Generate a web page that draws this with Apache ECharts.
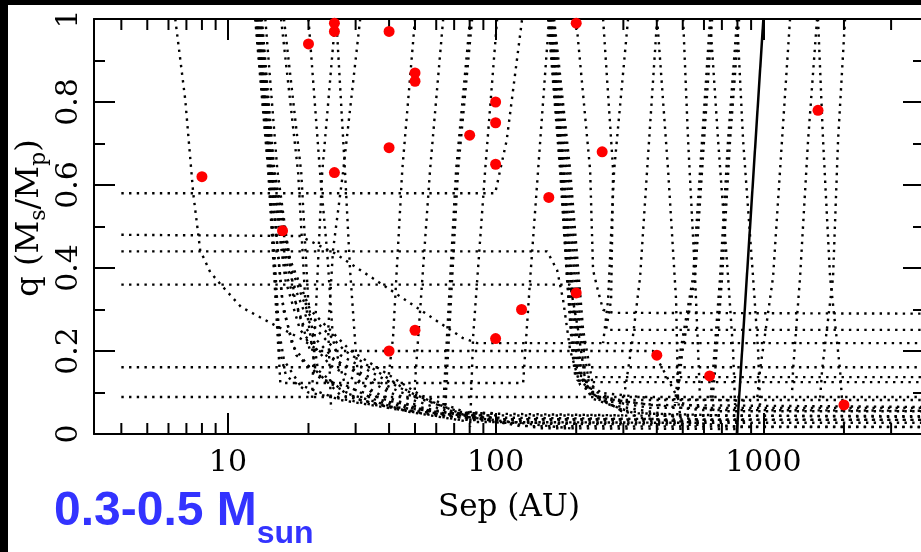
<!DOCTYPE html>
<html>
<head>
<meta charset="utf-8">
<script src="https://cdn.jsdelivr.net/npm/echarts@6/dist/echarts.min.js"></script>
<style>
  html, body { margin: 0; padding: 0; background: #fff; }
  #chart { width: 921px; height: 552px; }
</style>
</head>
<body>
<div id="chart"></div>
<script>
// Axis ranges (separation in AU on a log scale, mass ratio q linear)
const SEP_MIN = 3.162;
const SEP_MAX = 3981;
const Q_MIN = 0;
const Q_MAX = 1;

// Tick positions
const xMajorTicks = [10, 100, 1000];
const xMinorTicks = [4, 5, 6, 7, 8, 9, 20, 30, 40, 50, 60, 70, 80, 90,
                     200, 300, 400, 500, 600, 700, 800, 900, 2000, 3000];
const yTickStep = 0.2;

// Detected companions: separation (AU) and mass ratio q = Ms/Mp
const sepAU =     [8, 16, 20, 25, 25, 25, 40, 40, 40, 50, 50, 50, 80, 100, 100, 100, 100, 125, 158, 200, 200, 250, 400, 630, 1600, 2000];
const massRatio = [0.62, 0.49, 0.94, 0.99, 0.97, 0.63, 0.97, 0.69, 0.20, 0.87, 0.85, 0.25, 0.72, 0.80, 0.75, 0.65, 0.23, 0.30, 0.57, 0.99, 0.34, 0.68, 0.19, 0.14, 0.78, 0.07];

// Detection-limit curves, [sep (AU), q] pairs
const limT   = [[6.36,1],[6.93,0.806],[7.42,0.581],[7.88,0.443],[8.59,0.39],[9.44,0.359],[11.2,0.306],[14.9,0.263],[18.6,0.231],[24.1,0.183],[44,0.101],[73.7,0.053],[101,0.05]];
const lim058 = [[4,0.58],[99.6,0.58],[110,0.708],[125.6,1]];
const lim048 = [[4,0.48],[18.6,0.477],[25,0.436],[38,0.359],[62.1,0.267],[75.6,0.231],[85.3,0.219],[4000,0.219]];
const lim044 = [[4,0.44],[155.7,0.44],[169.7,0.395],[178.7,0.323],[189.8,0.202],[206.8,0.118],[245.6,0.087],[377.6,0.07],[4000,0.065]];
const lim036 = [[4,0.36],[189.8,0.36],[203.3,0.251],[215.9,0.13],[267.7,0.082],[580,0.058],[4000,0.056]];
const lim016 = [[4,0.161],[4000,0.161]];
const lim009 = [[4,0.089],[4000,0.089]];
const lim020 = [[13.8,1],[15.3,0.636],[17.8,0.323],[20.3,0.2],[387.5,0.2],[436.9,0.137],[488.7,0.075],[689,0.055],[4000,0.055]];

const ladA1 = [[12.65,1],[14.14,0.636],[15.7,0.123],[126.7,0.123],[134.5,0.371],[144.1,0.636],[158.4,1]];
const ladA2 = [[12.76,1],[14.3,0.636],[15.5,0.251],[16.2,0.178],[18.6,0.118],[26.3,0.082],[44,0.058],[73.7,0.045],[4000,0.043]];
const ladA3 = [[12.87,1],[14.4,0.636],[15.95,0.323],[17.4,0.214],[21.2,0.142],[31.2,0.082],[52.3,0.051],[87.5,0.036],[4000,0.034]];
const ladA4 = [[12.98,1],[14.5,0.636],[16.4,0.371],[18.6,0.251],[24.1,0.166],[37,0.094],[62.1,0.046],[104,0.027],[4000,0.027]];
const ladA5 = [[13.2,1],[14.6,0.636],[16.8,0.395],[19.8,0.275],[26.3,0.19],[44,0.111],[73.7,0.046],[123.5,0.019],[4000,0.017]];
const ladA6 = [[13.4,1],[14.9,0.636],[17.1,0.419],[20.3,0.299],[28.6,0.202],[52.3,0.094],[87.5,0.039],[146.6,0.014],[800,0.012]];
const ladA7 = [[12.7,1],[14.2,0.636],[15.6,0.2],[16.5,0.14],[20,0.1],[35,0.07],[70,0.05],[300,0.045]];
const ladA8 = [[12.9,1],[14.45,0.636],[16.1,0.3],[18,0.19],[23,0.13],[40,0.08],[80,0.04],[400,0.036]];
const ladA9 = [[13.1,1],[14.55,0.636],[16.6,0.38],[19.2,0.26],[25,0.18],[40,0.1],[70,0.05],[150,0.025],[600,0.022]];
const ladA10 = [[13.3,1],[14.8,0.636],[17,0.41],[20,0.29],[27.4,0.2],[48,0.1],[80,0.04],[200,0.012]];
const ladB1 = [[15.8,1],[18.3,0.629],[19.45,0.323],[21.2,0.154],[26.3,0.094],[44,0.058],[73.7,0.034],[860,0.031]];
const ladB2 = [[16.2,1],[18.8,0.629],[19.95,0.323],[21.7,0.154],[27.4,0.099],[47.9,0.053],[80.3,0.029],[500,0.027]];

const midB = [[20,1],[22.1,0.629],[23.5,0.436],[24.7,0.227],[27.4,0.118],[37,0.077],[62.1,0.048],[95,0.045]];
const midA = [[25.2,1],[22.5,0.629],[21.4,0.323],[20.8,0.154],[20.6,0.082]];
const midC = [[25.4,1],[27.4,0.629],[28.6,0.395],[29.9,0.219],[30.7,0.13],[37,0.082],[62.1,0.051],[90,0.05]];
const midD = [[31.2,1],[26.9,0.629],[24.7,0.443],[23.7,0.251],[24.3,0.058]];
const midE = [[50,1],[44.8,0.636],[41.4,0.234],[39.7,0.13],[39,0.094]];
const midF = [[63.7,1],[56.9,0.636],[51.4,0.234],[50,0.123],[49.6,0.058]];
const midG1 = [[80.3,1],[71.2,0.636],[64.8,0.154],[63.7,0.058]];
const midG2 = [[81.7,1],[72.4,0.636],[65.9,0.154],[64.8,0.058]];
const midH = [[101.3,1],[91.4,0.636],[82.4,0.234],[80.3,0.017]];

const wide1 = [[157,1],[174.1,0.636],[184.9,0.371],[193.1,0.202],[198.1,0.142],[225.4,0.137],[4000,0.137]];
const wide2 = [[158.4,1],[175.6,0.636],[188.2,0.347],[198.1,0.178],[206.8,0.125],[245.6,0.125],[4000,0.125]];
const wide3 = [[159.8,1],[177.1,0.636],[191.4,0.347],[203.3,0.154],[225.4,0.094],[291.6,0.082],[4000,0.082]];
const wide4 = [[161.2,1],[180.2,0.636],[196.4,0.323],[210.4,0.13],[245.6,0.082],[377.6,0.063],[4000,0.063]];
const wide5 = [[162.6,1],[183.4,0.636],[201.6,0.299],[217.8,0.111],[267.7,0.07],[448.3,0.046],[4000,0.041]];
const wide6 = [[164,1],[186.6,0.636],[206.8,0.275],[225.4,0.101],[291.6,0.058],[580.3,0.034],[4000,0.034]];
const wide7 = [[165.4,1],[189.8,0.636],[212.2,0.251],[235.3,0.087],[346.4,0.039],[818.5,0.017],[4000,0.017]];
const wide8 = [[158,1],[175,0.636],[186,0.36],[195,0.19],[202,0.13],[240,0.1],[400,0.085],[900,0.08]];
const wide9 = [[161,1],[179,0.636],[194,0.33],[207,0.15],[230,0.085],[330,0.05],[700,0.045]];

const outA = [[199.8,1],[225.4,0.636],[231.2,0.395],[239.3,0.354],[252,0.299],[274.7,0.292],[4000,0.29]];
const outB = [[252,1],[274.7,0.636],[270,0.323],[258.6,0.251],[279.4,0.251],[4000,0.251]];
const outC = [[312.4,1],[277.1,0.636],[263.1,0.323],[252,0.219]];
const outD = [[401.1,1],[368,0.636],[346.4,0.378],[323.4,0.219],[299.2,0.075],[291.6,0.046]];
const outE = [[401.1,1],[440.7,0.636],[472.1,0.323],[480.3,0.082],[488.7,0.046]];
const outF = [[501.5,1],[523.4,0.708],[555.9,0.378],[570.4,0.202],[580.3,0.082]];
const outG1 = [[632.4,1],[590.4,0.708],[546.4,0.378],[488.7,0.195],[468.1,0.075]];
const outG2 = [[643.5,1],[600.5,0.708],[555.9,0.378],[497.2,0.195],[476.3,0.075]];
const outH = [[632.4,1],[677.5,0.708],[738.3,0.378],[770.7,0.202],[784.1,0.07]];
const outI1 = [[797.7,1],[738.3,0.708],[689.3,0.378],[649.1,0.154],[632.4,0.075]];
const outI2 = [[811.9,1],[751,0.708],[701.3,0.378],[660.4,0.154],[643.5,0.075]];
const outJ = [[797.7,1],[840,0.708],[915.3,0.378],[955.5,0.202],[972,0.07]];
const outK = [[1258,1],[1174,0.708],[1087,0.378],[972,0.154],[947.3,0.082]];
const outL = [[1587,1],[1469,0.708],[1371,0.378],[1291,0.154],[1280,0.099]];
const outM = [[1600,1],[1671,0.708],[1775,0.378],[1934,0.154],[1967,0.082]];
const outN = [[2019,1],[1901,0.708],[1821,0.378],[1657,0.154],[1628,0.082]];

// Outer field-of-view limit (solid)
const fieldLimit = [[795.7,0],[1000,1]];

const dottedCurves = [
  limT, lim058, lim048, lim044, lim036, lim016, lim009, lim020,
  ladA1, ladA2, ladA3, ladA4, ladA5, ladA6, ladA7, ladA8, ladA9, ladA10, ladB1, ladB2,
  midA, midB, midC, midD, midE, midF, midG1, midG2, midH,
  wide1, wide2, wide3, wide4, wide5, wide6, wide7, wide8, wide9,
  outA, outB, outC, outD, outE, outF, outG1, outG2, outH, outI1, outI2, outJ, outK, outL, outM, outN
];

const serif = 'DejaVu Serif';
const black = '#000';

function decadeLabel(v) {
  const e = Math.log10(v);
  const r = Math.round(e);
  if (Math.abs(e - r) < 1e-6 && xMajorTicks.indexOf(Math.pow(10, r)) >= 0) {
    return String(Math.pow(10, r));
  }
  return '';
}

function qLabel(v) {
  if (Math.abs(v) < 1e-9) return '0';
  if (Math.abs(v - 1) < 1e-9) return '1';
  return v.toFixed(1);
}

function logAxis(position, showLabels) {
  return {
    type: 'log', logBase: 10, min: SEP_MIN, max: SEP_MAX, position: position,
    axisLine: { show: true, onZero: false, lineStyle: { color: black, width: 2 } },
    axisTick: { show: true, inside: true, length: 21, lineStyle: { color: black, width: 2 } },
    axisLabel: { show: showLabels, formatter: decadeLabel, color: black, fontFamily: serif, fontSize: 30, margin: 14 },
    splitLine: { show: false },
    minorTick: { show: false },
    minorSplitLine: { show: false }
  };
}

function qAxis(position, showLabels) {
  return {
    type: 'value', min: Q_MIN, max: Q_MAX, interval: yTickStep, position: position,
    axisLine: { show: true, onZero: false, lineStyle: { color: black, width: 2 } },
    axisTick: { show: true, inside: true, length: 21, lineStyle: { color: black, width: 2 } },
    minorTick: { show: true, splitNumber: 2, length: 11, lineStyle: { color: black, width: 2 } },
    axisLabel: { show: showLabels, rotate: 90, formatter: qLabel, color: black, fontFamily: serif, fontSize: 30, margin: 10 },
    splitLine: { show: false },
    minorSplitLine: { show: false }
  };
}

const xBottom = logAxis('bottom', true);
xBottom.name = 'Sep (AU)';
xBottom.nameLocation = 'middle';
xBottom.nameGap = 58;
xBottom.nameTextStyle = { fontFamily: serif, fontSize: 31, color: black };

const series = [];

dottedCurves.forEach(function (c) {
  series.push({
    type: 'line', data: c, xAxisIndex: 0, yAxisIndex: 0,
    symbol: 'none', silent: true, clip: true, z: 2,
    lineStyle: { color: black, width: 2.4, type: [2.4, 5.3], cap: 'butt' }
  });
});

series.push({
  type: 'line', data: fieldLimit, xAxisIndex: 0, yAxisIndex: 0,
  symbol: 'none', silent: true, clip: true, z: 3,
  lineStyle: { color: black, width: 2.5, type: 'solid' }
});

// Minor ticks of the log axis on the bottom and top frame edges
series.push({
  type: 'custom', xAxisIndex: 0, yAxisIndex: 0, silent: true, z: 4,
  data: xMinorTicks.map(function (v) { return [v, Q_MIN]; }),
  encode: { x: 0, y: 1 },
  renderItem: function (params, api) {
    const bottom = api.coord([api.value(0), Q_MIN]);
    const top = api.coord([api.value(0), Q_MAX]);
    return {
      type: 'group',
      children: [
        { type: 'line', shape: { x1: bottom[0], y1: bottom[1], x2: bottom[0], y2: bottom[1] - 11 }, style: { stroke: black, lineWidth: 2 } },
        { type: 'line', shape: { x1: top[0], y1: top[1], x2: top[0], y2: top[1] + 11 }, style: { stroke: black, lineWidth: 2 } }
      ]
    };
  }
});

series.push({
  type: 'scatter', xAxisIndex: 0, yAxisIndex: 0, z: 10,
  data: sepAU.map(function (s, i) { return [s, massRatio[i]]; }),
  symbol: 'circle', symbolSize: 11,
  itemStyle: { color: '#ff0000', opacity: 1 }
});

const chart = echarts.init(document.getElementById('chart'), null, { renderer: 'canvas', width: 921, height: 552 });
chart.setOption({
  animation: false,
  backgroundColor: '#fff',
  grid: { left: 94, top: 19, width: 830, height: 415, containLabel: false, outerBoundsMode: 'none' },
  xAxis: [xBottom, logAxis('top', false)],
  yAxis: [qAxis('left', true), qAxis('right', false)],
  series: series,
  graphic: [
    { type: 'rect', z: 100, shape: { x: 0, y: 0, width: 921, height: 5 }, style: { fill: black } },
    { type: 'rect', z: 100, shape: { x: 0, y: 0, width: 8, height: 552 }, style: { fill: black } },
    {
      type: 'text', z: 100, x: 30, y: 218, rotation: Math.PI / 2,
      style: {
        text: '{m|q (M}{s|s}{m|/M}{s|p}{m|)}',
        align: 'center', verticalAlign: 'middle',
        rich: {
          m: { fontFamily: serif, fontSize: 32, lineHeight: 40, fill: black },
          s: { fontFamily: serif, fontSize: 22, lineHeight: 18, verticalAlign: 'bottom', fill: black }
        }
      }
    },
    {
      type: 'text', z: 100, x: 54, y: 474,
      style: {
        text: '{a|0.3-0.5 M}{b|sun}',
        align: 'left', verticalAlign: 'top',
        rich: {
          a: { fontFamily: 'Liberation Sans', fontWeight: 'bold', fontSize: 48, lineHeight: 76, fill: '#3333ff' },
          b: { fontFamily: 'Liberation Sans', fontWeight: 'bold', fontSize: 32, lineHeight: 20, verticalAlign: 'bottom', fill: '#3333ff' }
        }
      }
    }
  ]
});
</script>
</body>
</html>
